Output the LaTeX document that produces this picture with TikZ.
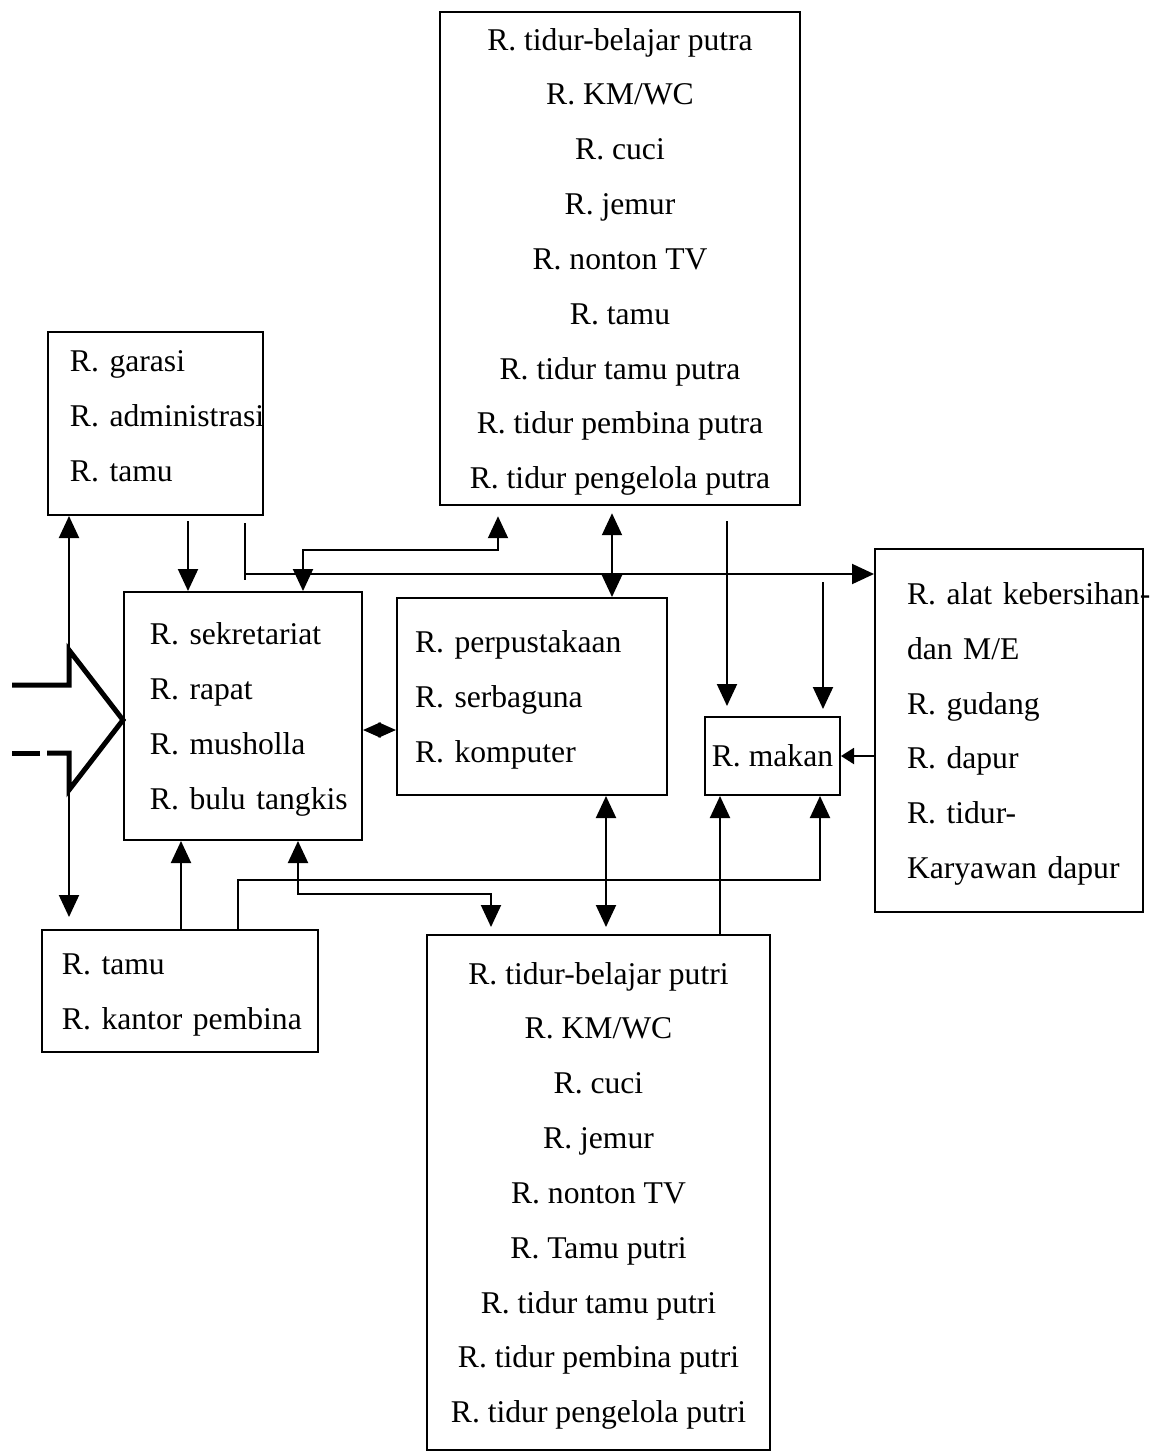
\documentclass[tikz,border=0pt]{standalone}
\usepackage{fontspec}
\setmainfont{Liberation Serif}
\usetikzlibrary{arrows.meta,calc}

\newcommand{\roomsl}[1]{\begin{tabular}{@{}l@{}}#1\end{tabular}}
\newcommand{\roomsc}[1]{\begin{tabular}{@{}c@{}}#1\end{tabular}}

\begin{document}
\begin{tikzpicture}[x=0.2mm, y=-0.2mm,
    room/.style={draw, line width=0.4mm, font=\fontsize{18}{31.2}\selectfont, inner ysep=0pt},
    flow/.style={line width=0.4mm, -{Triangle[length=4.4mm,width=4mm]}},
    both/.style={line width=0.4mm, {Triangle[length=4.4mm,width=4mm]}-{Triangle[length=4.4mm,width=4mm]}},
    ]
    \useasboundingbox (0,0) rectangle (1154,1456);

    \node[room, minimum width=72mm, minimum height=98.6mm] (putra) at (620,258.5)
        {\roomsc{R. tidur-belajar putra\\ R. KM/WC\\ R. cuci\\ R. jemur\\ R. nonton TV\\ R. tamu\\
         R. tidur tamu putra\\ R. tidur pembina putra\\ R. tidur pengelola putra}};
    \node[room, align=left, text width=34.2mm, inner xsep=4.4mm, minimum height=36.6mm] (admin) at (155.5,423.5)
        {\roomsl{R. garasi\\ R. administrasi\\ R. tamu\\[9pt]}};
    \node[room, align=left, text width=37.2mm, inner xsep=5.2mm, minimum height=49.6mm] (sekr) at (243,716)
        {\roomsl{R. sekretariat\\ R. rapat\\ R. musholla\\ R. bulu tangkis}};
    \node[room, align=left, text width=46.8mm, inner xsep=3.6mm, minimum height=39.4mm] (perpus) at (532,696.5)
        {\roomsl{R. perpustakaan\\ R. serbaguna\\ R. komputer}};
    \node[room, minimum width=27mm, inner xsep=0pt, minimum height=15.6mm] (makan) at (772.5,756)
        {\roomsc{R. makan}};
    \node[room, align=left, text width=40.8mm, inner xsep=6.4mm, minimum height=72.6mm] (kebersihan) at (1009,730.5)
        {\roomsl{R. alat kebersihan-\\ dan M/E\\ R. gudang\\ R. dapur\\ R. tidur-\\ Karyawan dapur}};
    \node[room, align=left, text width=47.2mm, inner xsep=4mm, minimum height=24.4mm] (pembina) at (180,991)
        {\roomsl{R. tamu\\ R. kantor pembina}};
    \node[room, minimum width=68.6mm, minimum height=103mm] (putri) at (598.5,1192.5)
        {\roomsc{R. tidur-belajar putri\\ R. KM/WC\\ R. cuci\\ R. jemur\\ R. nonton TV\\ R. Tamu putri\\
         R. tidur tamu putri\\ R. tidur pembina putri\\ R. tidur pengelola putri}};

    % pintu masuk
    \coordinate (gateN) at (69,650);
    \coordinate (gateS) at (69,790);
    \draw[line width=1mm, line join=miter] (12,685) -- (69,685) -- (gateN) -- (sekr.west |- 0,720)
        -- (gateS) -- (69,753) -- (47,753);
    \draw[line width=1mm] (40,753) -- (12,753);
    \draw[flow] (gateN) -- (gateN |- admin.south);
    \draw[flow, shorten >=2.4mm] (gateS) -- (gateS |- pembina.north);

    \draw[flow, shorten <=1mm] (admin.south -| 188,0) -- (sekr.north -| 188,0);
    \coordinate (tee) at (245,574);
    \draw[line width=0.4mm, shorten <=1.4mm] (admin.south -| tee) -- ($(tee)+(0,6)$);
    \draw[flow] (tee) -- (tee -| kebersihan.west);
    \draw[flow, shorten <=1.6mm, shorten >=1.4mm] (tee -| 823,0) -- (makan.north -| 823,0);

    \draw[both, shorten >=2mm] (sekr.north -| 303,0) |- (498,550) -- (putra.south -| 498,0);
    \draw[both, shorten <=1.4mm] (putra.south -| 612,0) -- (perpus.north -| 612,0);
    \draw[flow, shorten <=3mm, shorten >=2mm] (putra.south -| 727,0) -- (makan.north -| 727,0);
    \draw[line width=0.4mm, -{Triangle[length=2.6mm,width=3.2mm]}] (kebersihan.west |- makan.east) -- (makan.east);
    \draw[line width=0.4mm, {Triangle[length=3.5mm,width=3mm]}-{Triangle[length=3.5mm,width=3mm]}]
        (sekr.east |- 0,730) -- (perpus.west |- 0,730);

    \draw[both, shorten >=1.4mm] (perpus.south -| 606,0) -- (putri.north -| 606,0);
    \draw[flow] (putri.north -| 720,0) -- (makan.south -| 720,0);
    \draw[flow] (pembina.north -| 181,0) -- (sekr.south -| 181,0);
    \draw[flow] (pembina.north -| 238,0) |- (820,880) -- (makan.south -| 820,0);
    \draw[both, shorten >=1.4mm] (sekr.south -| 298,0) |- (491,894) -- (putri.north -| 491,0);
\end{tikzpicture}
\end{document}
